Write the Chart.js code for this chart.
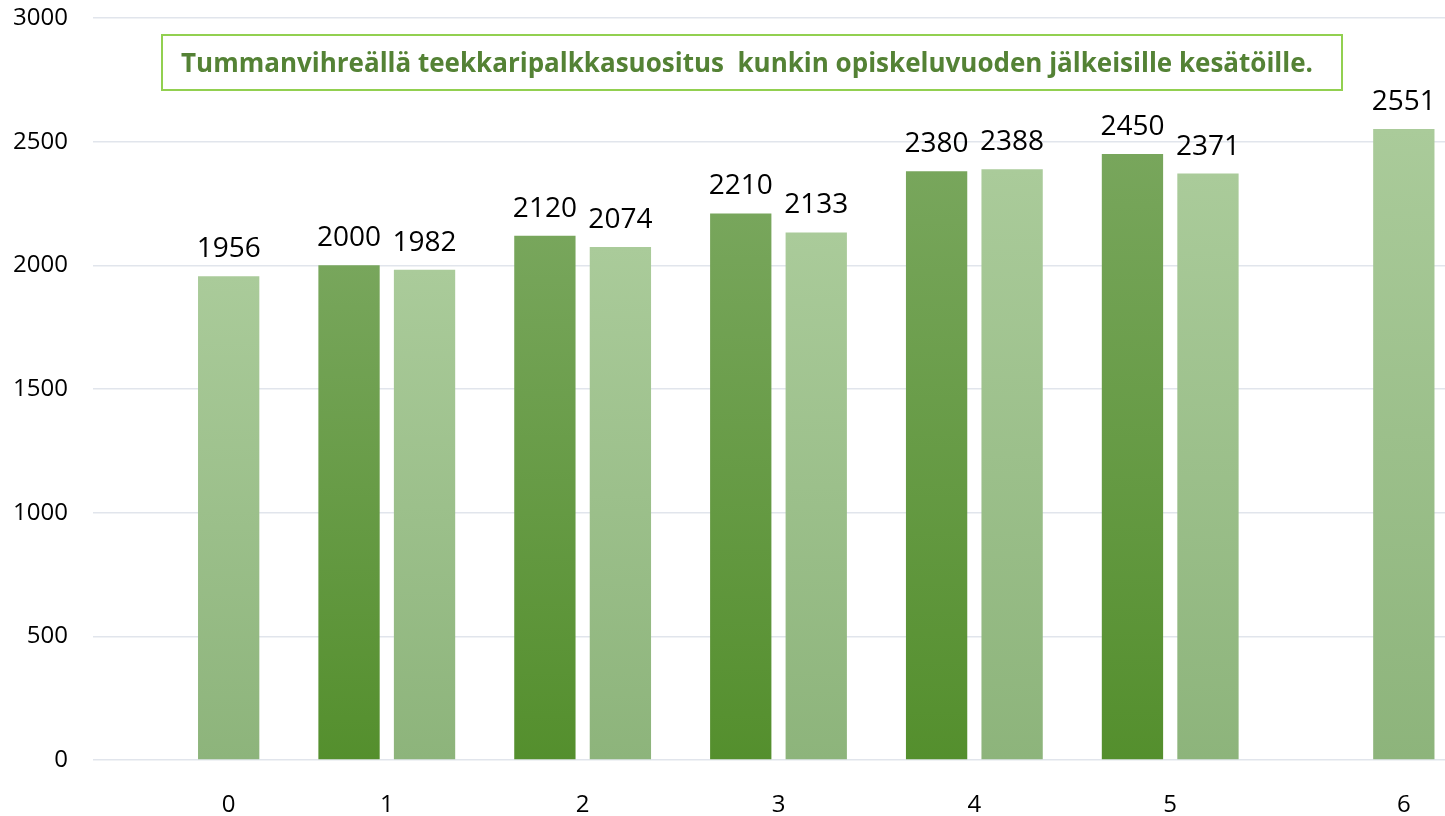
<!DOCTYPE html>
<html><head><meta charset="utf-8">
<script src="https://cdn.jsdelivr.net/npm/chart.js@4"></script>
<style>
html,body{margin:0;padding:0;background:#fff;overflow:hidden;width:1445px;height:816px}
#wrap{position:absolute;left:0;top:0;width:1466px;height:816px}
</style>
</head><body><div id="wrap"><canvas id="c" width="1466" height="816"></canvas></div>
<script>
const categories = ['0','1','2','3','4','5','6'];
const recommended = [null, 2000, 2120, 2210, 2380, 2450, null];
const actual = [1956, 1982, 2074, 2133, 2388, 2371, 2551];
const yTicks = [0, 500, 1000, 1500, 2000, 2500, 3000];
const titleText = 'Tummanvihreällä teekkaripalkkasuositus  kunkin opiskeluvuoden jälkeisille kesätöille.';

const FONT = '"Open Sans", "DejaVu Sans", sans-serif';

function barGrad(top, bottom) {
  return (ctx) => {
    const chart = ctx.chart;
    const y = chart.scales && chart.scales.y;
    if (!y || ctx.type !== 'data' || ctx.raw == null) return bottom;
    const yTop = y.getPixelForValue(ctx.raw);
    const yBot = y.getPixelForValue(0);
    if (!isFinite(yTop) || !isFinite(yBot) || yTop === yBot) return bottom;
    const g = chart.ctx.createLinearGradient(0, yTop, 0, yBot);
    g.addColorStop(0, top);
    g.addColorStop(1, bottom);
    return g;
  };
}

const valueLabels = {
  id: 'valueLabels',
  afterDatasetsDraw(chart) {
    const c = chart.ctx;
    c.save();
    c.font = '28px ' + FONT;
    c.fillStyle = '#000';
    c.textAlign = 'center';
    c.textBaseline = 'alphabetic';
    chart.data.datasets.forEach((ds, i) => {
      const meta = chart.getDatasetMeta(i);
      meta.data.forEach((el, j) => {
        const v = ds.data[j];
        if (v == null) return;
        c.fillText(String(v), el.x, el.y - 19);
      });
    });
    c.restore();
  }
};

const xLabels = {
  id: 'xLabels',
  afterDraw(chart) {
    const c = chart.ctx;
    c.save();
    c.font = '24px ' + FONT;
    c.fillStyle = '#000';
    c.textAlign = 'center';
    c.textBaseline = 'middle';
    categories.forEach((lab, j) => {
      const present = chart.data.datasets.map((ds, i) => i).filter(i => chart.data.datasets[i].data[j] != null);
      let x;
      if (present.length === 1) x = chart.getDatasetMeta(present[0]).data[j].x;
      else x = chart.scales.x.getPixelForValue(j);
      c.fillText(lab, x, 805);
    });
    c.restore();
  }
};

const titleBox = {
  id: 'titleBox',
  afterDraw(chart) {
    const c = chart.ctx;
    c.save();
    const x0 = 162, y0 = 35, x1 = 1342, y1 = 90;
    c.fillStyle = '#fff';
    c.fillRect(x0, y0, x1 - x0, y1 - y0);
    c.strokeStyle = '#92d050';
    c.lineWidth = 2;
    c.strokeRect(x0, y0, x1 - x0, y1 - y0);
    c.font = 'bold 26px ' + FONT;
    c.fillStyle = '#548235';
    c.textAlign = 'center';
    c.textBaseline = 'alphabetic';
    c.fillText(titleText, 747, 72, 1132);
    c.restore();
  }
};

new Chart(document.getElementById('c'), {
  type: 'bar',
  data: {
    labels: categories,
    datasets: [
      { label: 'Suositus', data: recommended, backgroundColor: barGrad('#78a65c', '#548f2d'),
        categoryPercentage: 0.771, barPercentage: 0.812 },
      { label: 'Toteutunut', data: actual, backgroundColor: barGrad('#aacb9a', '#8db47b'),
        categoryPercentage: 0.771, barPercentage: 0.812 }
    ]
  },
  options: {
    responsive: false,
    devicePixelRatio: 1,
    animation: false,
    layout: { padding: { top: 18, right: 2, left: 0, bottom: 0 } },
    plugins: { legend: { display: false }, tooltip: { enabled: false }, title: { display: false } },
    scales: {
      x: {
        grid: { display: false },
        border: { display: false },
        ticks: { display: false },
        afterFit: (s) => { s.height = 56; }
      },
      y: {
        min: 0, max: 3000,
        afterBuildTicks: (s) => { s.ticks = yTicks.map(v => ({ value: v })); },
        grid: { color: '#e1e5ec', lineWidth: 1.5, drawTicks: true, tickLength: 25, tickColor: 'rgba(0,0,0,0)' },
        border: { display: false },
        ticks: { font: { size: 24, family: FONT }, color: '#000', padding: 0,
                 callback: (v) => String(v) },
        afterFit: (s) => { s.width = 93; }
      }
    }
  },
  plugins: [valueLabels, xLabels, titleBox]
});
</script>
</body></html>
